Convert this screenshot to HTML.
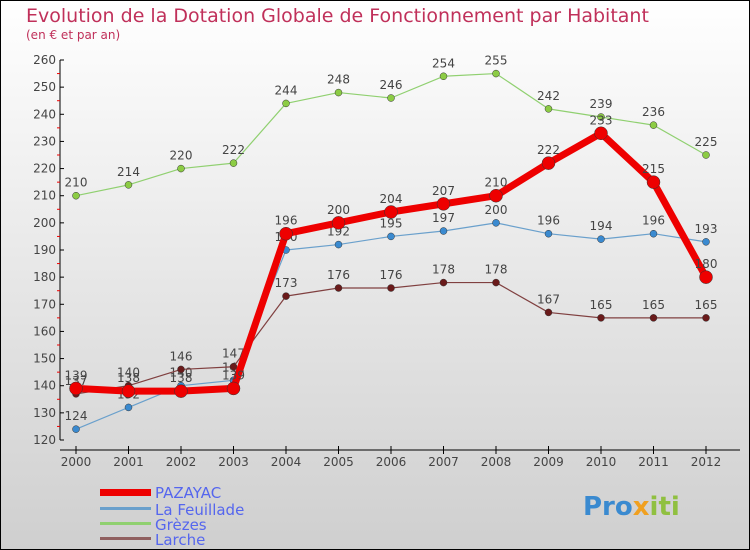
<!DOCTYPE html>
<html><head><meta charset="utf-8"><style>
body{margin:0}
#c{width:750px;height:550px;position:relative;overflow:hidden}
svg text{font-family:"DejaVu Sans","Liberation Sans",sans-serif}
</style></head><body>
<div id="c">
<svg id="s" width="750" height="550" xmlns="http://www.w3.org/2000/svg">
<defs><linearGradient id="bg" x1="0" y1="0" x2="0" y2="1"><stop offset="0" stop-color="#ffffff"/><stop offset="1" stop-color="#cfcfcf"/></linearGradient></defs>
<rect x="0.5" y="0.5" width="749" height="549" fill="url(#bg)" stroke="#000"/>
<text x="26" y="22" font-size="19" fill="#c0305a">Evolution de la Dotation Globale de Fonctionnement par Habitant</text>
<text x="26" y="39" font-size="12" fill="#c0305a">(en € et par an)</text>
<g id="axes"></g><g id="series"></g>
<g>
<rect x="100" y="489" width="51" height="7" fill="#e00"/>
<text x="155" y="498" font-size="15" fill="#5566ee">PAZAYAC</text>
<rect x="100" y="507" width="51" height="3" fill="#6aa0cc"/>
<text x="155" y="515" font-size="15" fill="#5566ee">La Feuillade</text>
<rect x="100" y="522" width="51" height="3" fill="#90d070"/>
<text x="155" y="530" font-size="15" fill="#5566ee">Grèzes</text>
<rect x="100" y="537" width="51" height="3" fill="#906060"/>
<text x="155" y="545" font-size="15" fill="#5566ee">Larche</text>
</g>
<text x="583" y="515" font-size="26" font-weight="bold" fill="#3a8ad0">Pro<tspan fill="#f0a020">x</tspan><tspan fill="#90c040">iti</tspan></text>
</svg></div>
<script>
const years=[2000,2001,2002,2003,2004,2005,2006,2007,2008,2009,2010,2011,2012];
const yTicks=[120,130,140,150,160,170,180,190,200,210,220,230,240,250,260];
const pazayac=[139,138,138,139,196,200,204,207,210,222,233,215,180];
const laFeuillade=[124,132,140,142,190,192,195,197,200,196,194,196,193];
const grezes=[210,214,220,222,244,248,246,254,255,242,239,236,225];
const larche=[137,140,146,147,173,176,176,178,178,167,165,165,165];
const NS='http://www.w3.org/2000/svg';
function xs(i){return 76+i*52.5;}
function ys(v){return 440-(v-120)*380/140;}
function mk(t,a,p){const e=document.createElementNS(NS,t);for(const k in a)e.setAttribute(k,a[k]);p.appendChild(e);return e;}
const ax=document.getElementById('axes');
let l=mk('line',{x1:60,y1:60,x2:60,y2:440,stroke:'#000'},ax);


l=mk('line',{x1:60,y1:450,x2:740,y2:450,stroke:'#000'},ax);


yTicks.forEach((v,i)=>{
 mk('line',{x1:60,y1:ys(v),x2:64,y2:ys(v),stroke:'#000'},ax);
 if(i<yTicks.length-1)mk('line',{x1:57,y1:ys(v+5),x2:60,y2:ys(v+5),stroke:'#e00'},ax);
 const t=mk('text',{x:56,y:ys(v)+4,'font-size':12,'text-anchor':'end',fill:'#444'},ax);t.textContent=v;
 
 
});
years.forEach((y,i)=>{
 mk('line',{x1:xs(i),y1:446,x2:xs(i),y2:454,stroke:'#000'},ax);
 const t=mk('text',{x:xs(i),y:466,'font-size':12,'text-anchor':'middle',fill:'#444'},ax);t.textContent=y;
 
 
});
const sg=document.getElementById('series');
function draw(vals,name,col,w,r,fill){
 const g=mk('g',{},sg);
 
 
 mk('polyline',{points:vals.map((v,i)=>xs(i)+','+ys(v)).join(' '),fill:'none',stroke:col,'stroke-width':w,'stroke-linejoin':'round'},g);
 vals.forEach((v,i)=>{
  const c=mk('circle',{cx:xs(i),cy:ys(v),r:r,fill:fill,stroke:'#333','stroke-width':0.5},g);
  
  
  const t=mk('text',{x:xs(i),y:ys(v)-9,'font-size':12,'text-anchor':'middle',fill:'#444'},g);t.textContent=v;
  
  
 });
}
draw(grezes,'grezes','#90d070',1.2,3.5,'#8ccc44');
draw(laFeuillade,'la-feuillade','#6aa0cc',1.2,3.5,'#3a8ad0');
draw(larche,'larche','#804040',1.2,3.5,'#6a1a1a');
draw(pazayac,'pazayac','#ee0000',7,6.5,'#ee0000');
</script>
</body></html>
